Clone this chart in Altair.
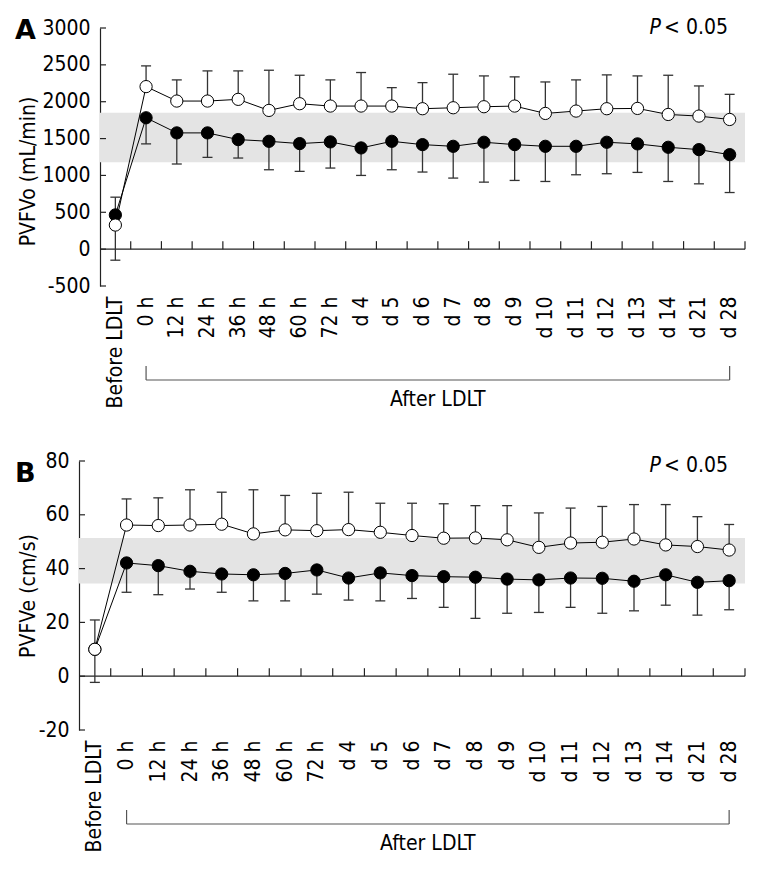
import altair as alt
import pandas as pd

FONT = "DejaVu Sans Condensed, DejaVu Sans, sans-serif"
FS = 21

categories = ["Before LDLT", "0 h", "12 h", "24 h", "36 h", "48 h", "60 h", "72 h",
              "d 4", "d 5", "d 6", "d 7", "d 8", "d 9", "d 10", "d 11", "d 12",
              "d 13", "d 14", "d 21", "d 28"]
group_label = "After LDLT"

# Panel A: PVFVo (mL/min)
a_filled = [464, 1782, 1577, 1577, 1486, 1463, 1432, 1455, 1373, 1463, 1418,
            1395, 1450, 1418, 1395, 1395, 1450, 1428, 1382, 1350, 1282]
a_filled_low = [-150, 1428, 1155, 1245, 1236, 1077, 1055, 1100, 1000, 1077, 1046,
                964, 909, 932, 918, 1009, 1023, 1041, 918, 886, 768]
a_open = [327, 2205, 2009, 2009, 2032, 1882, 1973, 1941, 1941, 1941, 1905,
          1918, 1932, 1941, 1841, 1873, 1905, 1909, 1827, 1805, 1759]
a_open_high = [705, 2486, 2296, 2418, 2418, 2427, 2359, 2296, 2396, 2191, 2259,
               2373, 2350, 2337, 2268, 2296, 2364, 2350, 2359, 2214, 2100]
a_band = [1180, 1850]
a_ticks = [-500, 0, 500, 1000, 1500, 2000, 2500, 3000]

# Panel B: PVFVe (cm/s)
b_filled = [10, 42.1, 41.1, 39.0, 38.0, 37.7, 38.2, 39.5, 36.5, 38.4, 37.4,
            37.0, 36.8, 36.1, 35.8, 36.5, 36.4, 35.3, 37.7, 34.9, 35.5]
b_filled_low = [-2.3, 31.2, 30.3, 32.4, 31.2, 28.0, 28.0, 30.5, 28.3, 28.0, 28.9,
                25.6, 21.5, 23.4, 23.7, 25.6, 23.4, 24.3, 26.4, 22.7, 24.7]
b_open = [10, 56.2, 56.0, 56.2, 56.5, 52.9, 54.4, 54.1, 54.5, 53.5, 52.3,
          51.3, 51.4, 50.7, 47.9, 49.5, 49.8, 51.0, 48.8, 48.2, 46.9]
b_open_high = [20.9, 65.9, 66.3, 69.3, 68.4, 69.3, 67.2, 68.0, 68.4, 64.3, 64.3,
               64.1, 63.4, 63.4, 60.7, 62.5, 63.1, 63.8, 63.8, 59.3, 56.4]
b_band = [34.5, 51.4]
b_ticks = [-20, 0, 20, 40, 60, 80]

W = 666  # common panel width (plot origin shared by both panels)


def panel(letter, filled, low, opened, high, band, yticks, ytitle,
          height, inset, letter_y, p_y, title_x, title_y=None):
    n = len(categories)
    idx = list(range(n))
    pts = pd.DataFrame({
        "idx": idx * 2,
        "group": ["filled"] * n + ["open"] * n,
        "value": filled + opened,
        "end": low + high,
    })
    xscale = alt.Scale(domain=[-0.5, n - 0.5], nice=False, zero=False, range=[inset, W])
    yscale = alt.Scale(domain=[min(yticks), max(yticks)], nice=False, zero=False)
    label_expr = "[" + ",".join("'%s'" % c for c in categories) + "][datum.value]"
    x_axis = alt.Axis(values=idx, labelExpr=label_expr, labelAngle=270, domain=False,
                      ticks=False, grid=False, title=None, labelFlush=False,
                      labelOverlap=False, labelPadding=10, labelFont=FONT,
                      labelFontSize=FS, labelColor="black", labelBound=False)
    yargs = dict(values=yticks, ticks=False, grid=False, domain=True,
                 domainColor="#222", domainWidth=1.2, labelPadding=10,
                 labelExpr="'' + datum.value",
                 labelFont=FONT, labelFontSize=FS, labelColor="black",
                 title=ytitle, titleFont=FONT, titleFontSize=FS,
                 titleFontWeight="normal", titleColor="black", titleX=title_x)
    if inset:
        yargs["offset"] = -inset
    if title_y is not None:
        yargs["titleY"] = title_y
    y_axis = alt.Axis(**yargs)

    def X(f):
        return alt.X(f, scale=xscale, axis=x_axis)

    def Y(f):
        return alt.Y(f, scale=yscale, axis=y_axis)

    band_df = pd.DataFrame({"x0": [-0.5], "x1": [n - 0.5], "y0": [band[0]], "y1": [band[1]]})
    band_layer = alt.Chart(band_df).mark_rect(color="#e4e4e4").encode(
        x=X("x0:Q"), x2="x1:Q", y=Y("y0:Q"), y2="y1:Q")

    zero_df = pd.DataFrame({"x0": [-0.5], "x1": [n - 0.5], "y0": [0]})
    zero_layer = alt.Chart(zero_df).mark_rule(color="#222", strokeWidth=1.2).encode(
        x=X("x0:Q"), x2="x1:Q", y=Y("y0:Q"))

    xt_df = pd.DataFrame({"xb": [i + 0.5 for i in idx], "y0": [0] * n})
    xt_layer = alt.Chart(xt_df).mark_tick(orient="vertical", size=8, thickness=1.2,
                                          color="#222", yOffset=-4, opacity=1).encode(
        x=X("xb:Q"), y=Y("y0:Q"))

    yt_df = pd.DataFrame({"yv": yticks})
    yt_layer = alt.Chart(yt_df).mark_tick(orient="horizontal", size=6, thickness=1.2,
                                          color="#222", opacity=1).encode(
        x=alt.value(inset + 3), y=Y("yv:Q"))

    err_layer = alt.Chart(pts).mark_rule(color="#333", strokeWidth=1.3).encode(
        x=X("idx:Q"), y=Y("value:Q"), y2="end:Q")
    cap_layer = alt.Chart(pts).mark_tick(orient="horizontal", size=10, thickness=1.3,
                                         color="#333", opacity=1).encode(
        x=X("idx:Q"), y=Y("end:Q"))
    line_layer = alt.Chart(pts).mark_line(color="black", strokeWidth=1).encode(
        x=X("idx:Q"), y=Y("value:Q"), detail="group:N")
    pt_layer = alt.Chart(pts).mark_point(filled=True, size=150, stroke="black",
                                         strokeWidth=1, opacity=1).encode(
        x=X("idx:Q"), y=Y("value:Q"),
        fill=alt.Fill("group:N", scale=alt.Scale(domain=["filled", "open"],
                                                 range=["black", "white"]),
                      legend=None))

    letter_layer = alt.Chart(pd.DataFrame({"t": [letter]})).mark_text(
        font="DejaVu Sans", fontSize=27, fontWeight="bold", align="left",
        baseline="middle", color="black").encode(
        text="t:N", x=alt.value(-64), y=alt.value(letter_y))
    p1 = alt.Chart(pd.DataFrame({"t": ["P"]})).mark_text(
        font=FONT, fontSize=FS, fontStyle="italic", align="right", baseline="middle",
        color="black").encode(text="t:N", x=alt.value(W - 84), y=alt.value(p_y))
    p2 = alt.Chart(pd.DataFrame({"t": ["< 0.05"]})).mark_text(
        font=FONT, fontSize=FS, align="right", baseline="middle",
        color="black").encode(text="t:N", x=alt.value(W - 17), y=alt.value(p_y))

    br_df = pd.DataFrame({"x0": [1], "x1": [n - 1]})
    br_h = alt.Chart(br_df).mark_rule(color="#555", strokeWidth=1.2).encode(
        x=X("x0:Q"), x2="x1:Q", y=alt.value(height + 94))
    br_e = pd.DataFrame({"xe": [1, n - 1]})
    br_v = alt.Chart(br_e).mark_rule(color="#555", strokeWidth=1.2).encode(
        x=X("xe:Q"), y=alt.value(height + 80), y2=alt.value(height + 94))
    gl_df = pd.DataFrame({"xm": [(1 + n - 1) / 2], "t": [group_label]})
    gl = alt.Chart(gl_df).mark_text(font=FONT, fontSize=FS, baseline="middle",
                                    align="center", color="black").encode(
        x=X("xm:Q"), y=alt.value(height + 114), text="t:N")

    return alt.layer(band_layer, zero_layer, xt_layer, yt_layer, err_layer, cap_layer,
                     line_layer, pt_layer, letter_layer, p1, p2, br_h, br_v, gl
                     ).properties(width=W, height=height)


pa = panel("A", a_filled, a_filled_low, a_open, a_open_high, a_band, a_ticks,
           "PVFVo (mL/min)", 258, 21, 3, 0, title_x=-62, title_y=143)
pb = panel("B", b_filled, b_filled_low, b_open, b_open_high, b_band, b_ticks,
           "PVFVe (cm/s)", 269, 0, 13, 5, title_x=-41)

chart = alt.vconcat(pa, pb, spacing=40).properties(
    padding={"left": 7, "top": 9, "right": 0, "bottom": 0}
).configure_view(stroke=None)

chart.save("out.html", embed_options={"renderer": "svg", "actions": False})
